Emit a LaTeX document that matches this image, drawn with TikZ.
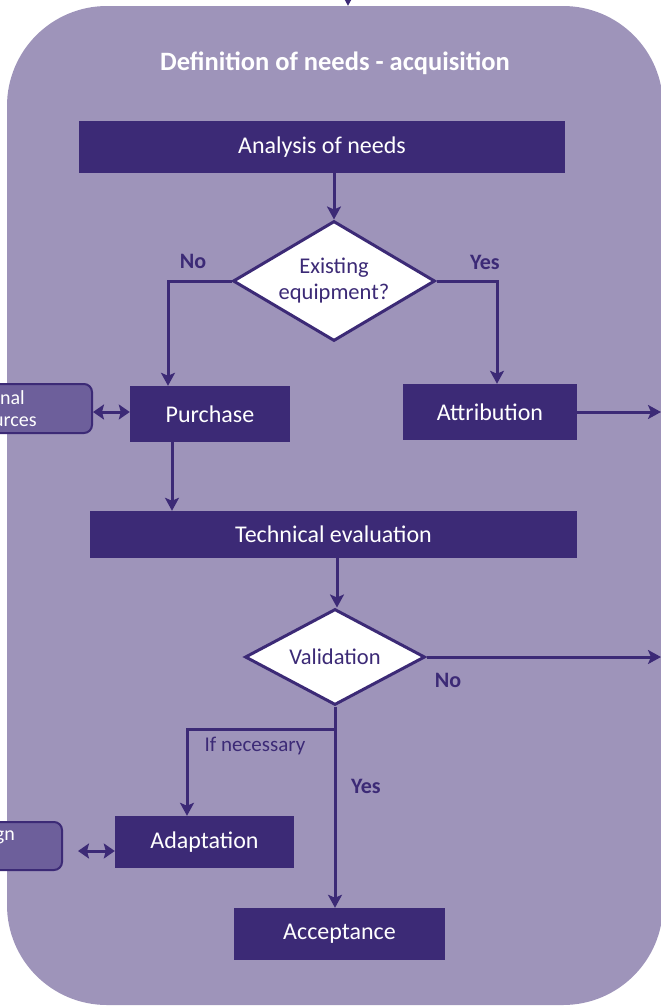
\documentclass[tikz,border=0pt]{standalone}
\usepackage{fontspec}
\setmainfont{Carlito}
\usetikzlibrary{shapes.geometric,arrows.meta,calc}
\definecolor{lav}{RGB}{158,148,186}
\definecolor{deep}{RGB}{60,42,118}
\definecolor{mid}{RGB}{109,95,155}

\begin{document}
\begin{tikzpicture}[x=1pt,y=-1pt,
  frame/.style={fill=lav, rounded corners=100pt, minimum width=656pt,
    minimum height=999pt, inner sep=0pt},
  stepbox/.style={fill=deep, text=white, inner sep=0pt,
    font=\fontsize{24}{28}\selectfont},
  decision/.style={diamond, draw=deep, line width=3pt, fill=white,
    text=deep, inner sep=0pt, aspect=1.68, align=center,
    font=\fontsize{22.5}{26}\selectfont},
  sidebox/.style={fill=mid, draw=deep, line width=2pt, rounded corners=8pt,
    inner sep=0pt},
  sidetext/.style={text=white, align=left, anchor=west, inner sep=0pt,
    font=\fontsize{20}{22}\selectfont},
  answer/.style={text=deep, inner sep=0pt, font=\bfseries\fontsize{22}{26}\selectfont},
  note/.style={text=deep, inner sep=0pt, font=\fontsize{21}{25}\selectfont},
  flow/.style={draw=deep, line width=3pt,
    -{Stealth[length=13pt,width=14pt,inset=3pt]}},
  twoway/.style={draw=deep, line width=3pt,
    {Stealth[length=11pt,width=15pt,inset=2pt]}-{Stealth[length=11pt,width=15pt,inset=2pt]}},
  link/.style={draw=deep, line width=3pt}]

\useasboundingbox (0,0) rectangle (661,1007);
\clip (0,0) rectangle (661,1007);

% background panel
\node[frame] (panel) at (335,505.5) {};
\node[text=white, font=\bfseries\fontsize{26.5}{30}\selectfont, inner sep=0pt]
  (title) at (335,63) {Definition of needs - acquisition};

% process steps
\node[stepbox, minimum width=486pt, minimum height=52pt] (analysis) at (322,147) {Analysis of needs};
\node[decision, minimum width=202pt, minimum height=120pt] (exist) at (334,281) {Existing\\equipment?};
\node[stepbox, minimum width=160pt, minimum height=56pt] (purchase) at (210,414) {Purchase};
\node[stepbox, minimum width=174pt, minimum height=56pt] (attrib) at (490,412) {Attribution};
\node[stepbox, minimum width=487pt, minimum height=47pt] (techeval) at (333.5,534.5) {Technical evaluation};
\node[decision, minimum width=180pt, minimum height=96pt] (valid) at (335,657) {Validation};
\node[stepbox, minimum width=179pt, minimum height=52pt] (adapt) at (204.5,842) {Adaptation};
\node[stepbox, minimum width=211pt, minimum height=52pt] (accept) at (339.5,934) {Acceptance};

% side boxes at the left edge
\node[sidebox, minimum width=140pt, minimum height=49pt] (extres) at (22,408.5) {};
\node[sidetext] (extrestext) at (-42,409) {External\\resources};
\node[sidebox, minimum width=110pt, minimum height=48pt] (design) at (7,846) {};
\node[sidetext] (designtext) at (-40,835) {Design};

% free ends
\coordinate (inlet) at (348,-10);
\coordinate (outA) at (661,412);
\coordinate (outB) at (661,657);
\coordinate (branch) at (335,729);

% connectors
\draw[flow] (inlet) -- (inlet |- panel.north);
\draw[flow] (exist.north |- analysis.south) -- (exist.north);
\draw[flow] (exist.west) -| ([xshift=-42pt]purchase.north);
\draw[flow] (exist.east) -| ([xshift=7pt]attrib.north);
\draw[flow] (attrib.east |- outA) -- (outA);
\draw[twoway] (extres.east |- 0,412) -- (purchase.west |- 0,412);
\draw[flow] ([xshift=-38pt]purchase.south) -- ([xshift=-38pt]purchase.south |- techeval.north);
\draw[flow] ([xshift=3.5pt]techeval.south) -- ([xshift=3.5pt]techeval.south |- valid.north);
\draw[flow] (valid.east) -- (outB);
\draw[flow] (valid.south) -- (valid.south |- accept.north);
\draw[flow] (branch) -| ([xshift=-17.5pt]adapt.north);
\draw[twoway] (78,851) -- (adapt.west |- 0,851);

% branch labels
\node[answer] (no1) at (193,261) {No};
\node[answer] (yes1) at (485,262) {Yes};
\node[answer] (no2) at (448,680) {No};
\node[answer] (yes2) at (366,786) {Yes};
\node[note] (ifnec) at (255,746) {If necessary};
\end{tikzpicture}
\end{document}
